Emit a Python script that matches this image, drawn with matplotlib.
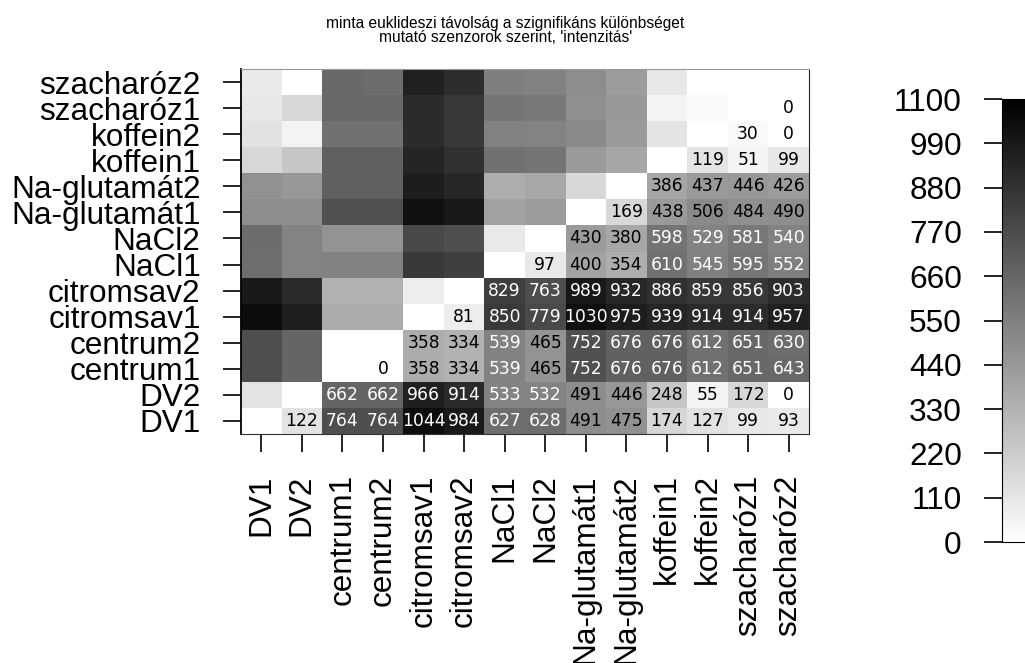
import numpy as np
import matplotlib
matplotlib.use("Agg")
import matplotlib.pyplot as plt
from matplotlib.colors import LinearSegmentedColormap

plt.rcParams['font.family'] = ['Liberation Sans', 'DejaVu Sans']

labels = ['DV1', 'DV2', 'centrum1', 'centrum2', 'citromsav1', 'citromsav2',
          'NaCl1', 'NaCl2', 'Na-glutamát1', 'Na-glutamát2', 'koffein1', 'koffein2',
          'szacharóz1', 'szacharóz2']

# distances of each sample to the ones after it (upper triangle, row by row)
dv1 = [122, 764, 764, 1044, 984, 627, 628, 491, 475, 174, 127, 99, 93]
dv2 = [662, 662, 966, 914, 533, 532, 491, 446, 248, 55, 172, 0]
centrum1 = [0, 358, 334, 539, 465, 752, 676, 676, 612, 651, 643]
centrum2 = [358, 334, 539, 465, 752, 676, 676, 612, 651, 630]
citromsav1 = [81, 850, 779, 1030, 975, 939, 914, 914, 957]
citromsav2 = [829, 763, 989, 932, 886, 859, 856, 903]
nacl1 = [97, 400, 354, 610, 545, 595, 552]
nacl2 = [430, 380, 598, 529, 581, 540]
naglu1 = [169, 438, 506, 484, 490]
naglu2 = [386, 437, 446, 426]
koffein1 = [119, 51, 99]
koffein2 = [30, 0]
szacharoz1 = [0]

upper_rows = [dv1, dv2, centrum1, centrum2, citromsav1, citromsav2, nacl1, nacl2,
              naglu1, naglu2, koffein1, koffein2, szacharoz1]
cbar_ticks = list(range(0, 1101, 110))

n = len(labels)
dist = np.zeros((n, n))
for i, row in enumerate(upper_rows):
    for k, v in enumerate(row):
        j = i + 1 + k
        dist[i, j] = v
        dist[j, i] = v

grey = LinearSegmentedColormap.from_list('wb', ['white', 'black'])

fig = plt.figure(figsize=(10.25, 6.63), dpi=100)
ax = fig.add_axes([0.2351, 0.3454, 0.5541, 0.5505])
im = ax.imshow(dist, cmap=grey, vmin=0, vmax=1100, origin='lower',
               aspect='auto', interpolation='nearest')

# numbers only in the upper triangle
for i in range(n):
    for j in range(i + 1, n):
        v = dist[i, j]
        ax.text(j, i, f"{v:.0f}", ha='center', va='center', fontsize=12.3,
                family='DejaVu Sans',
                color='white' if v > 515 else 'black')

ax.set_xticks(range(n))
ax.set_yticks(range(n))
ax.set_xticklabels(labels, rotation=90, fontsize=22.7)
ax.set_yticklabels(labels, fontsize=22.7)
ax.tick_params(length=13, width=1.2, pad=16, direction='out')
ax.spines['top'].set_color('#999999')
ax.spines['right'].set_color('#222222')
ax.spines['bottom'].set_color('#333333')
ax.spines['left'].set_color('black')
ax.spines['left'].set_linewidth(1.3)

fig.text(0.493, 0.958, "minta euklideszi távolság a szignifikáns különbséget",
         ha='center', va='baseline', fontsize=11.2)
fig.text(0.493, 0.937, "mutató szenzorok szerint, 'intenzitás'",
         ha='center', va='baseline', fontsize=11.2)

cax = fig.add_axes([0.9776, 0.1825, 0.04, 0.668])
cb = fig.colorbar(im, cax=cax, ticks=cbar_ticks)
cb.outline.set_edgecolor('black')
cax.yaxis.set_ticks_position('left')
cax.tick_params(length=13, width=1.2, pad=16, labelsize=22.7)

fig.savefig('out.png', dpi=100)
